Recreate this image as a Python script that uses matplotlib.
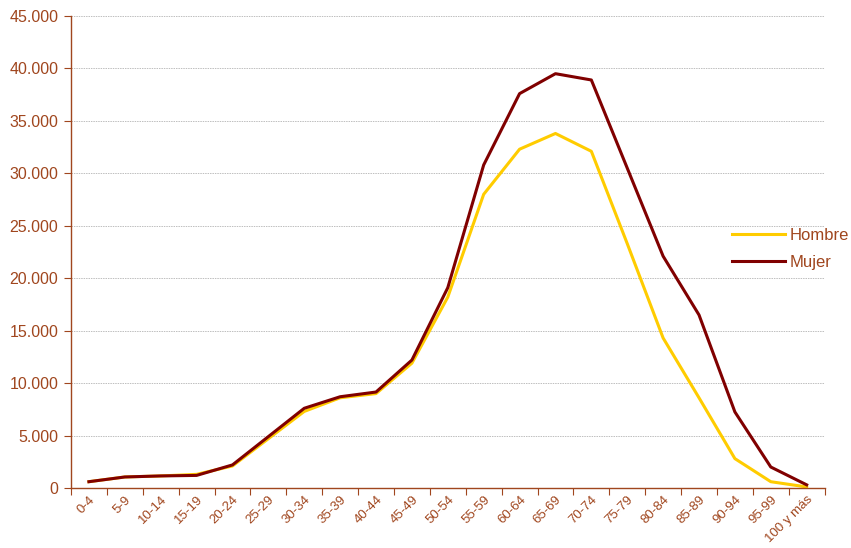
import numpy as np
import matplotlib
matplotlib.use("Agg")
from matplotlib import pyplot as plt
from matplotlib.ticker import FuncFormatter, FixedLocator

plt.rcParams['font.family'] = ['Liberation Sans', 'DejaVu Sans']

# %%
grupos = ['0-4', '5-9', '10-14', '15-19', '20-24', '25-29', '30-34', '35-39',
          '40-44', '45-49', '50-54', '55-59', '60-64', '65-69', '70-74',
          '75-79', '80-84', '85-89', '90-94', '95-99', '100 y más']
hombre = [600, 1050, 1150, 1300, 2100, 4700, 7300, 8600, 9000, 11900, 18200,
          28000, 32300, 33800, 32100, 23300, 14300, 8600, 2800, 600, 100]
mujer = [600, 1050, 1150, 1200, 2200, 4900, 7600, 8700, 9150, 12200, 19100,
         30800, 37600, 39500, 38900, 30500, 22100, 16500, 7250, 2000, 300]

txt_col = '#A0461E'
axis_col = '#A0461E'

# %%
fig = plt.figure(figsize=(8.51, 5.48), dpi=100)
ax = fig.add_axes([0.0834, 0.1095, 0.8856, 0.8613])

x = np.arange(len(grupos))
ax.plot(x, hombre, color='#FFCC00', lw=2.2, label='Hombre')
ax.plot(x, mujer, color='#800000', lw=2.2, label='Mujer')

ax.set_xlim(-0.5, len(grupos) - 0.5)
ax.set_ylim(0, 45000)
ax.set_yticks(np.arange(0, 45001, 5000))
ax.yaxis.set_major_formatter(FuncFormatter(lambda v, p: f'{int(v):,}'.replace(',', '.')))
ax.yaxis.grid(True, color='#BEBEBE', linestyle=(0, (1.5, 1)), lw=0.7)
ax.set_axisbelow(True)

# ticks between categories, labels at centres
ax.xaxis.set_major_locator(FixedLocator(np.arange(-0.5, len(grupos), 1)))
ax.xaxis.set_major_formatter(plt.NullFormatter())
ax.set_xticks(x, minor=True)
ax.set_xticklabels(grupos, minor=True, rotation=45, ha='right',
                   rotation_mode='anchor', fontsize=9.5, color=txt_col)
ax.tick_params(axis='x', which='minor', length=0, pad=4)
ax.tick_params(axis='x', which='major', length=5, color=axis_col, direction='out')
ax.tick_params(axis='y', length=5, color=axis_col, labelsize=11.5,
               labelcolor=txt_col, pad=4)

for s in ['top', 'right']:
    ax.spines[s].set_visible(False)
for s in ['left', 'bottom']:
    ax.spines[s].set_color(axis_col)
    ax.spines[s].set_linewidth(1.0)

leg = fig.legend(loc='center left', bbox_to_anchor=(0.860, 0.546), frameon=False,
                 borderpad=0, borderaxespad=0, fontsize=12, handlelength=3.2,
                 handletextpad=0.25, labelspacing=0.75)
for t in leg.get_texts():
    t.set_color(txt_col)

fig.savefig('out.png', dpi=100)
